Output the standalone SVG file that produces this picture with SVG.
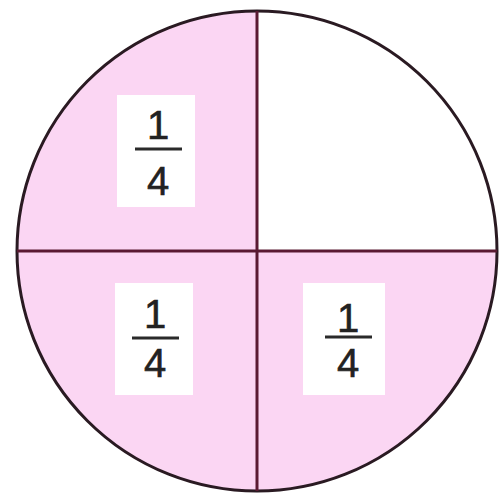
<svg xmlns="http://www.w3.org/2000/svg" width="501" height="498" viewBox="0 0 501 498">
<style>
.lbl{fill:#ffffff}
.t{font-family:"Liberation Sans",Arial,sans-serif;font-size:40px;fill:#222222;text-anchor:middle;stroke:#222222;stroke-width:0.6}
.bar{stroke:#2a2a2a;stroke-width:3}
</style>
<defs><clipPath id="c"><circle cx="257" cy="251" r="240"/></clipPath></defs>
<rect width="501" height="498" fill="#ffffff"/>
<g id="sectors" clip-path="url(#c)">
<rect x="0" y="0" width="257" height="251" fill="#fbd6f3"/>
<rect x="0" y="251" width="257" height="247" fill="#fbd6f3"/>
<rect x="257" y="251" width="244" height="247" fill="#fbd6f3"/>
</g>
<g id="connectors">
<circle cx="257" cy="251" r="240" fill="none" stroke="#2a1a22" stroke-width="3"/>
<line x1="257" y1="11" x2="257" y2="491" stroke="#5a1a32" stroke-width="3"/>
<line x1="17" y1="251" x2="497" y2="251" stroke="#5a1a32" stroke-width="3"/>
</g>
<g id="label-tl">
<rect class="lbl" x="117" y="95" width="78" height="112"/>
<text class="t" x="158" y="139">1</text>
<line class="bar" x1="135" y1="149" x2="182" y2="149"/>
<text class="t" x="158" y="195">4</text>
</g>
<g id="label-bl">
<rect class="lbl" x="115" y="283" width="78" height="112"/>
<text class="t" x="155" y="328">1</text>
<line class="bar" x1="132" y1="338" x2="179" y2="338"/>
<text class="t" x="155" y="377">4</text>
</g>
<g id="label-br">
<rect class="lbl" x="303" y="283" width="82" height="112"/>
<text class="t" x="348" y="332">1</text>
<line class="bar" x1="325" y1="337" x2="372" y2="337"/>
<text class="t" x="348" y="377">4</text>
</g>
</svg>
